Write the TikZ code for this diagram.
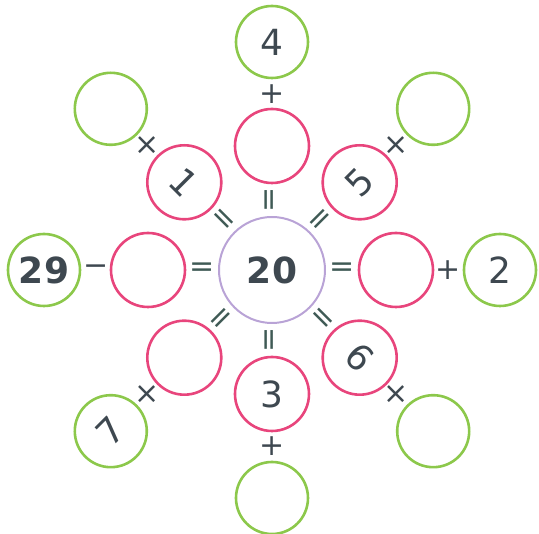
\documentclass[tikz,border=0pt]{standalone}
\usepackage{fontspec}
\setmainfont{DejaVu Sans}
\usepackage{graphicx}
\usepackage{tikz}
\usetikzlibrary{positioning}

\definecolor{ringpink}{HTML}{E8457C}
\definecolor{ringgreen}{HTML}{8CC84B}
\definecolor{hubpurple}{HTML}{B9A3D6}
\definecolor{numgray}{HTML}{3E4850}
\definecolor{eqgray}{HTML}{3F5A55}

\begin{document}
\begin{tikzpicture}[
    x=1pt, y=1pt,
    on grid,
    hubring/.style={
        draw=hubpurple,
        circle,
        line width=2pt,
        minimum size=106pt,
        inner sep=0pt,
        text=numgray,
        font=\fontsize{36}{36}\selectfont\bfseries
    },
    pinkring/.style={
        draw=ringpink,
        circle,
        line width=2.6pt,
        minimum size=74pt,
        inner sep=0pt,
        text=numgray,
        font=\fontsize{36}{36}\selectfont
    },
    greenring/.style={
        draw=ringgreen,
        circle,
        line width=2.6pt,
        minimum size=72pt,
        inner sep=0pt,
        text=numgray,
        font=\fontsize{36}{36}\selectfont
    },
    opsign/.style={inner sep=0pt, text=numgray, font=\fontsize{30}{30}\selectfont},
    eqsign/.style={inner sep=0pt, text=eqgray, font=\fontsize{30}{30}\selectfont}
]

\useasboundingbox (-272,-264) rectangle (267,270);

\node[hubring] (hub) at (0,0) {20};

% inner ring
\node[pinkring, above=124pt of hub] (pn) {};
\node[pinkring, above right=87.7pt and 87.7pt of hub] (pne) {\rotatebox[origin=c]{45}{5}};
\node[pinkring, right=124pt of hub] (pe) {};
\node[pinkring, below right=87.7pt and 87.7pt of hub] (pse) {\rotatebox[origin=c]{-45}{6}};
\node[pinkring, below=124pt of hub] (ps) {3};
\node[pinkring, below left=87.7pt and 87.7pt of hub] (psw) {};
\node[pinkring, left=124pt of hub] (pw) {};
\node[pinkring, above left=87.7pt and 87.7pt of hub] (pnw) {\rotatebox[origin=c]{-45}{1}};

% outer ring
\node[greenring, above=104pt of pn] (gn) {4};
\node[greenring, above right=73.5pt and 73.5pt of pne] (gne) {};
\node[greenring, right=104pt of pe] (ge) {2};
\node[greenring, below right=73.5pt and 73.5pt of pse] (gse) {};
\node[greenring, below=104pt of ps] (gs) {};
\node[greenring, below left=73.5pt and 73.5pt of psw] (gsw) {\rotatebox[origin=c]{45}{7}};
\node[greenring, left=104pt of pw] (gw) {\bfseries 29};
\node[greenring, above left=73.5pt and 73.5pt of pnw] (gnw) {};

% signs between the rings
\node[opsign, above=52pt of pn] (opn) {+};
\node[opsign, above right=36.8pt and 36.8pt of pne] (opne) {×};
\node[opsign, right=52pt of pe] (ope) {+};
\node[opsign, below right=36.8pt and 36.8pt of pse] (opse) {×};
\node[opsign, below=52pt of ps] (ops) {+};
\node[opsign, below left=36.8pt and 36.8pt of psw] (opsw) {×};
\node[opsign, left=52pt of pw] (opw) {−};
\node[opsign, above left=36.8pt and 36.8pt of pnw] (opnw) {×};

% equals signs round the hub
\node[eqsign, above=70pt of hub] (eqn) {\rotatebox[origin=c]{90}{=}};
\node[eqsign, above right=49.5pt and 49.5pt of hub] (eqne) {\rotatebox[origin=c]{45}{=}};
\node[eqsign, right=70pt of hub] (eqe) {=};
\node[eqsign, below right=49.5pt and 49.5pt of hub] (eqse) {\rotatebox[origin=c]{-45}{=}};
\node[eqsign, below=70pt of hub] (eqs) {\rotatebox[origin=c]{90}{=}};
\node[eqsign, below left=49.5pt and 49.5pt of hub] (eqsw) {\rotatebox[origin=c]{45}{=}};
\node[eqsign, left=70pt of hub] (eqw) {=};
\node[eqsign, above left=49.5pt and 49.5pt of hub] (eqnw) {\rotatebox[origin=c]{-45}{=}};

\end{tikzpicture}
\end{document}
